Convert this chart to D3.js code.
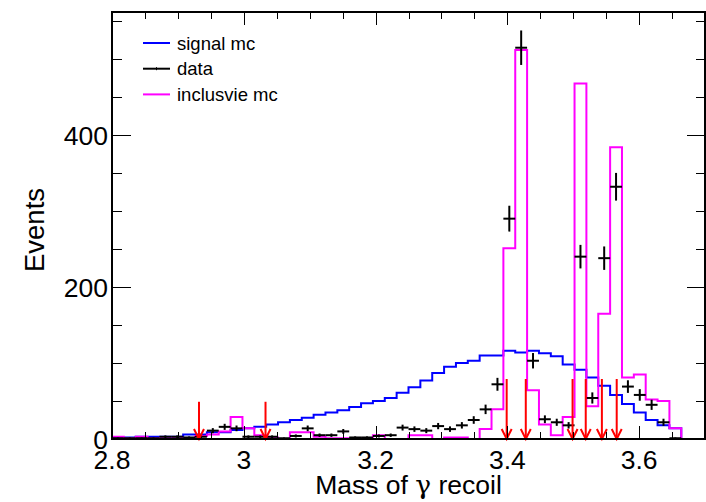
<!DOCTYPE html>
<html>
<head>
<meta charset="utf-8">
<script src="https://cdn.jsdelivr.net/npm/d3@7"></script>
<style>
  body { margin: 0; background: #fff; }
  svg { display: block; }
  text { font-family: "Liberation Sans", Arial, Helvetica, sans-serif; }
</style>
</head>
<body>
<svg id="canvas" width="706" height="502"></svg>
<script>
// histogram binning: 50 bins from 2.8 to 3.7
const histLow = 2.8;
const binWidth = 0.018;

const signalMC = [2, 2, 3, 3, 3, 3, 6, 6, 9, 9, 12, 14, 16, 19, 22, 25, 28, 32, 35, 38,
  42, 47, 50, 54, 61, 68, 77, 87, 95, 100, 103, 110, 110, 116, 114, 116, 113, 109, 98, 91,
  81, 70, 58, 46, 35, 25, 18, 14, 0, 0];

const dataCounts = [1, 1, 1, 1, 3, 3, 2, 3, 11, 16, 14, 3, 3, 3, 1, 4, 14, 5, 5, 10,
  2, 2, 4, 5, 15, 13, 11, 17, 13, 18, 25, 39, 72, 290, 515, 103, 26, 22, 18, 240,
  54, 238, 332, 69, 58, 45, 22, 1, 0, 0];

const inclusiveMC = [3, 1, 3, 1, 1, 1, 1, 4, 6, 10, 29, 14, 5, 2, 0, 9, 9, 3, 1, 1,
  1, 1, 5, 0, 0, 5, 5, 0, 2, 2, 0, 13, 39, 251, 512, 64, 19, 5, 29, 468,
  43, 165, 384, 81, 85, 52, 50, 14, 0, 0];

const arrowX = [2.932, 3.033, 3.399, 3.428, 3.499, 3.519, 3.5435, 3.566];
const arrowTop = [49, 49, 79, 79, 79, 79, 79, 79];

const xTicks = [2.8, 3.0, 3.2, 3.4, 3.6];
const xTickLabels = ["2.8", "3", "3.2", "3.4", "3.6"];
const yTicks = [0, 200, 400];

const legendNames = ["signal mc", "data", "inclusvie mc"];
const legendColors = ["#0000ff", "#000000", "#ff00ff"];

const svg = d3.select("#canvas");

const x = d3.scaleLinear().domain([2.8, 3.7]).range([112, 705]);
const y = d3.scaleLinear().domain([0, 562]).range([439, 12]);

const stepLine = (values) => {
  const pts = [];
  values.forEach((v, i) => {
    const lo = histLow + i * binWidth;
    pts.push([x(lo), y(v)]);
    pts.push([x(lo + binWidth), y(v)]);
  });
  return d3.line()(pts);
};

// signal mc
svg.append("path")
  .attr("d", stepLine(signalMC))
  .attr("fill", "none")
  .attr("stroke", "#0000ff")
  .attr("stroke-width", 2);

// inclusive mc
svg.append("path")
  .attr("d", stepLine(inclusiveMC))
  .attr("fill", "none")
  .attr("stroke", "#ff00ff")
  .attr("stroke-width", 2);

// data points with errors
const dataG = svg.append("g").attr("stroke", "#000").attr("stroke-width", 2);
dataCounts.forEach((v, i) => {
  if (v <= 0) return;
  const lo = histLow + i * binWidth;
  const mid = lo + binWidth / 2;
  const err = Math.sqrt(v);
  dataG.append("line")
    .attr("x1", x(lo)).attr("x2", x(lo + binWidth))
    .attr("y1", y(v)).attr("y2", y(v));
  dataG.append("line")
    .attr("x1", x(mid)).attr("x2", x(mid))
    .attr("y1", y(Math.max(0, v - err))).attr("y2", y(v + err));
});

// red arrows
const arrowG = svg.append("g")
  .attr("stroke", "#ff0000")
  .attr("stroke-width", 2)
  .attr("fill", "none");
arrowX.forEach((a, i) => {
  const ax = x(a);
  arrowG.append("line")
    .attr("x1", ax).attr("x2", ax)
    .attr("y1", y(arrowTop[i])).attr("y2", y(0));
  arrowG.append("path")
    .attr("d", `M${ax - 5},${y(0) - 10}L${ax},${y(0)}L${ax + 5},${y(0) - 10}`);
});

// ticks
const tickG = svg.append("g").attr("stroke", "#000").attr("stroke-width", 1);
d3.range(2.8, 3.70001, 0.05).forEach((t) => {
  const major = xTicks.some((m) => Math.abs(m - t) < 1e-6);
  const len = major ? 13 : 7;
  const px = Math.round(x(t)) + 0.5;
  tickG.append("line").attr("x1", px).attr("x2", px)
    .attr("y1", y(0)).attr("y2", y(0) - len);
  tickG.append("line").attr("x1", px).attr("x2", px)
    .attr("y1", 12).attr("y2", 12 + len);
});
d3.range(0, 551, 50).forEach((t) => {
  const major = yTicks.includes(t);
  const py = Math.round(y(t)) + 0.5;
  tickG.append("line").attr("x1", 112).attr("x2", 112 + (major ? 19 : 10))
    .attr("y1", py).attr("y2", py);
  tickG.append("line").attr("x1", 705).attr("x2", 705 - (major ? 18 : 9))
    .attr("y1", py).attr("y2", py);
});

// frame
svg.append("rect")
  .attr("x", 112).attr("y", 12)
  .attr("width", 705 - 112).attr("height", 439 - 12)
  .attr("fill", "none")
  .attr("stroke", "#000")
  .attr("stroke-width", 2);

// tick labels
svg.append("g").selectAll("text")
  .data(xTicks)
  .join("text")
  .attr("x", (d) => x(d))
  .attr("y", 469)
  .attr("text-anchor", "middle")
  .attr("font-size", 26.5)
  .text((d, i) => xTickLabels[i]);

svg.append("g").selectAll("text")
  .data(yTicks)
  .join("text")
  .attr("x", 108)
  .attr("y", (d) => y(d) + 9.5)
  .attr("text-anchor", "end")
  .attr("font-size", 26.5)
  .text((d) => d);

// axis titles
const xTitle = svg.append("text")
  .attr("x", 408.5)
  .attr("y", 494)
  .attr("text-anchor", "middle")
  .attr("font-size", 26.5);
xTitle.append("tspan").text("Mass of ");
xTitle.append("tspan").attr("font-family", "DejaVu Serif").text("γ");
xTitle.append("tspan").text(" recoil");

svg.append("text")
  .attr("transform", "translate(44,230) rotate(-90)")
  .attr("text-anchor", "middle")
  .attr("font-size", 27.5)
  .text("Events");

// legend
const legend = svg.append("g");
legendNames.forEach((name, i) => {
  const ly = 43 + i * 25.7;
  legend.append("line")
    .attr("x1", 143).attr("x2", 170)
    .attr("y1", ly).attr("y2", ly)
    .attr("stroke", legendColors[i])
    .attr("stroke-width", 2);
  legend.append("text")
    .attr("x", 177)
    .attr("y", ly + 6.5)
    .attr("font-size", 18.5)
    .text(name);
});
legend.append("line")
  .attr("x1", 156.5).attr("x2", 156.5)
  .attr("y1", 43 + 25.7 - 1.5).attr("y2", 43 + 25.7 + 1.5)
  .attr("stroke", "#000")
  .attr("stroke-width", 1);
</script>
</body>
</html>
